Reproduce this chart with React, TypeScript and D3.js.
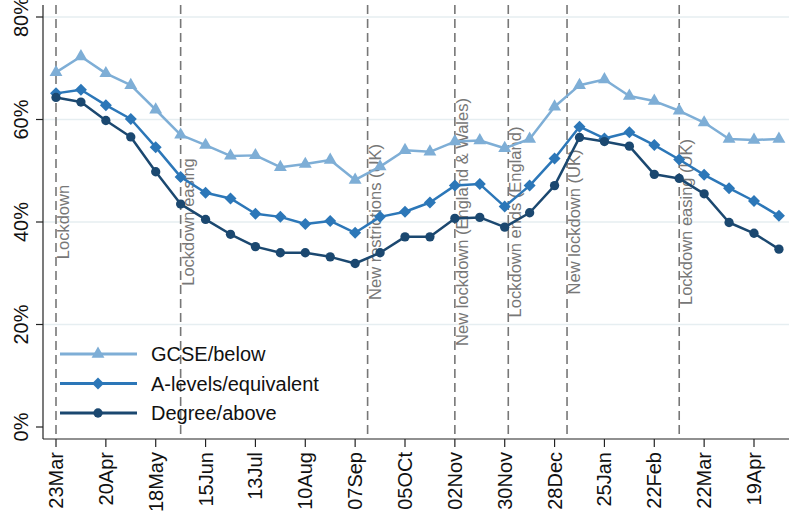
import React, { useRef, useEffect } from 'react';
import * as d3 from 'd3';

// fortnightly survey waves, starting 23 Mar 2020
const startDate = '2020-03-23';
const gcse = [69.2, 72.3, 69.0, 66.7, 61.9, 57.0, 55.0, 52.9, 53.0, 50.7, 51.3, 52.1, 48.2, 50.8, 54.0, 53.7, 55.7, 55.9, 54.4, 56.2, 62.5, 66.7, 67.8, 64.6, 63.6, 61.7, 59.4, 56.2, 56.0, 56.2];
const alevels = [65.1, 65.8, 62.8, 60.1, 54.6, 48.8, 45.7, 44.6, 41.6, 41.0, 39.6, 40.2, 37.9, 41.0, 42.0, 43.8, 47.1, 47.4, 43.0, 47.1, 52.4, 58.6, 56.3, 57.5, 55.0, 52.2, 49.2, 46.6, 44.1, 41.2];
const degree = [64.3, 63.4, 59.8, 56.6, 49.8, 43.5, 40.5, 37.6, 35.2, 34.0, 34.0, 33.2, 31.9, 34.0, 37.1, 37.1, 40.7, 40.9, 39.0, 41.8, 47.1, 56.5, 55.7, 54.8, 49.3, 48.5, 45.5, 39.9, 37.8, 34.7];

const tickLabels = ['23Mar', '20Apr', '18May', '15Jun', '13Jul', '10Aug', '07Sep', '05OCt', '02Nov', '30Nov', '28Dec', '25Jan', '22Feb', '22Mar', '19Apr'];
const yTicks = [0, 20, 40, 60, 80];

const eventDates = ['2020-03-23', '2020-06-01', '2020-09-14', '2020-11-02', '2020-12-02', '2021-01-04', '2021-03-08'];
const eventLabels = ['Lockdown', 'Lockdown easing', 'New restrictions (UK)', 'New lockdown (England & Wales)', 'Lockdown ends (England)', 'New lockdown (UK)', 'Lockdown easing (UK)'];

const seriesNames = ['GCSE/below', 'A-levels/equivalent', 'Degree/above'];
const seriesColors = ['#7eaed6', '#2c77b8', '#1b4870'];
const seriesShapes = ['triangle', 'diamond', 'circle'];

const FONT = '"Liberation Sans", Arial, sans-serif';

function App() {
  const ref = useRef<SVGSVGElement>(null);
  const width = 789;
  const height = 515;

  useEffect(() => {
    const svg = d3.select(ref.current);
    svg.selectAll('*').remove();

    const t0 = d3.utcParse('%Y-%m-%d')(startDate) as Date;
    const dayMs = 24 * 3600 * 1000;
    const waveDates = gcse.map((_, i) => new Date(t0.getTime() + i * 14 * dayMs));
    const tickDates = tickLabels.map((_, i) => new Date(t0.getTime() + i * 28 * dayMs));

    const x = d3.scaleUtc()
      .domain([tickDates[0], tickDates[tickDates.length - 1]])
      .range([56, 754]);
    const y = d3.scaleLinear().domain([0, 80]).range([427, 17]);

    const axisX = 43;
    const axisY = 439;

    // gridlines
    svg.append('g')
      .selectAll('line')
      .data(yTicks.filter(d => d > 0))
      .enter()
      .append('line')
      .attr('x1', axisX).attr('x2', width)
      .attr('y1', d => y(d)).attr('y2', d => y(d))
      .attr('stroke', '#e6eef1')
      .attr('stroke-width', 1.5);

    // event lines
    const parse = d3.utcParse('%Y-%m-%d');
    const ev = svg.append('g');
    eventDates.forEach((d, i) => {
      const ex = x(parse(d) as Date);
      ev.append('line')
        .attr('x1', ex).attr('x2', ex)
        .attr('y1', 5).attr('y2', axisY)
        .attr('stroke', '#777')
        .attr('stroke-width', 1.6)
        .attr('stroke-dasharray', '9,5');
      ev.append('text')
        .attr('transform', `translate(${ex + 13},${y(40)}) rotate(-90)`)
        .attr('text-anchor', 'middle')
        .attr('font-family', FONT)
        .attr('font-size', 16.5)
        .attr('fill', '#777')
        .text(eventLabels[i]);
    });

    // axes
    svg.append('line')
      .attr('x1', axisX).attr('x2', axisX)
      .attr('y1', 5).attr('y2', axisY)
      .attr('stroke', '#222').attr('stroke-width', 1.2);
    svg.append('line')
      .attr('x1', axisX).attr('x2', width)
      .attr('y1', axisY).attr('y2', axisY)
      .attr('stroke', '#222').attr('stroke-width', 1.2);

    const yg = svg.append('g');
    yTicks.forEach(t => {
      yg.append('line')
        .attr('x1', axisX - 7).attr('x2', axisX)
        .attr('y1', y(t)).attr('y2', y(t))
        .attr('stroke', '#222').attr('stroke-width', 1.2);
      yg.append('text')
        .attr('transform', `translate(28,${y(t)}) rotate(-90)`)
        .attr('text-anchor', 'middle')
        .attr('font-family', FONT)
        .attr('font-size', 20)
        .attr('fill', '#111')
        .text(`${t}%`);
    });

    const xg = svg.append('g');
    tickDates.forEach((d, i) => {
      const tx = x(d);
      xg.append('line')
        .attr('x1', tx).attr('x2', tx)
        .attr('y1', axisY).attr('y2', axisY + 8)
        .attr('stroke', '#222').attr('stroke-width', 1.2);
      xg.append('text')
        .attr('transform', `translate(${tx},${axisY + 13}) rotate(-90)`)
        .attr('text-anchor', 'end')
        .attr('dy', '0.35em')
        .attr('font-family', FONT)
        .attr('font-size', 20)
        .attr('fill', '#111')
        .text(tickLabels[i]);
    });

    const symbolFor = (shape: string) => {
      if (shape === 'triangle') return d3.symbol().type(d3.symbolTriangle).size(72)();
      if (shape === 'diamond') return d3.symbol().type(d3.symbolSquare).size(72)();
      return d3.symbol().type(d3.symbolCircle).size(68)();
    };
    const rot = (shape: string) => (shape === 'diamond' ? ' rotate(45)' : '');

    const line = d3.line<number>()
      .x((_, i) => x(waveDates[i]))
      .y(d => y(d));

    [gcse, alevels, degree].forEach((vals, s) => {
      const g = svg.append('g');
      g.append('path')
        .attr('d', line(vals))
        .attr('fill', 'none')
        .attr('stroke', seriesColors[s])
        .attr('stroke-width', 2.5)
        .attr('stroke-linejoin', 'round');
      g.selectAll('path.mk')
        .data(vals)
        .enter()
        .append('path')
        .attr('class', 'mk')
        .attr('d', symbolFor(seriesShapes[s]))
        .attr('transform', (d, i) => `translate(${x(waveDates[i])},${y(d)})${rot(seriesShapes[s])}`)
        .attr('fill', seriesColors[s]);
    });

    // legend
    const lg = svg.append('g');
    seriesNames.forEach((name, s) => {
      const ly = 354 + s * 29.5;
      lg.append('line')
        .attr('x1', 60).attr('x2', 137)
        .attr('y1', ly).attr('y2', ly)
        .attr('stroke', seriesColors[s])
        .attr('stroke-width', 2.8);
      lg.append('path')
        .attr('d', symbolFor(seriesShapes[s]))
        .attr('transform', `translate(98,${ly})${rot(seriesShapes[s])}`)
        .attr('fill', seriesColors[s]);
      lg.append('text')
        .attr('x', 151).attr('y', ly)
        .attr('dy', '0.36em')
        .attr('font-family', FONT)
        .attr('font-size', 20)
        .attr('fill', '#111')
        .text(name);
    });
  }, []);

  return (
    <svg
      ref={ref}
      width={width}
      height={height}
      style={{ position: 'absolute', left: 0, top: 0, background: '#fff' }}
    />
  );
}

export default App;
